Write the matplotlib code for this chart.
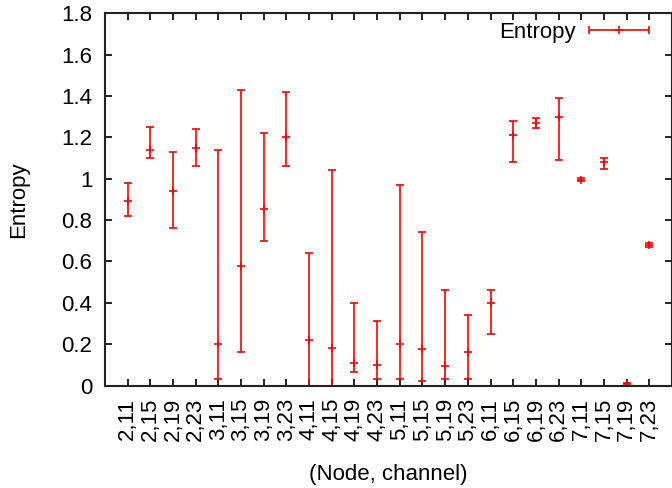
import numpy as np
import matplotlib
matplotlib.use("Agg")
import matplotlib.pyplot as plt
from matplotlib.container import ErrorbarContainer
from matplotlib.legend_handler import HandlerErrorbar

# data
labels = ["2,11", "2,15", "2,19", "2,23", "3,11", "3,15", "3,19", "3,23",
          "4,11", "4,15", "4,19", "4,23", "5,11", "5,15", "5,19", "5,23",
          "6,11", "6,15", "6,19", "6,23", "7,11", "7,15", "7,19", "7,23"]
entropy = [0.89, 1.14, 0.94, 1.15, 0.20, 0.58, 0.855, 1.20,
           0.22, 0.18, 0.11, 0.10, 0.20, 0.175, 0.095, 0.16,
           0.40, 1.21, 1.27, 1.30, 0.995, 1.08, 0.005, 0.68]
low = [0.82, 1.10, 0.76, 1.06, 0.03, 0.16, 0.70, 1.06,
       0.00, 0.00, 0.065, 0.03, 0.03, 0.02, 0.03, 0.03,
       0.25, 1.08, 1.245, 1.09, 0.988, 1.045, 0.0, 0.672]
high = [0.98, 1.25, 1.13, 1.24, 1.14, 1.43, 1.22, 1.42,
        0.64, 1.04, 0.40, 0.31, 0.97, 0.74, 0.46, 0.34,
        0.46, 1.28, 1.295, 1.39, 1.005, 1.10, 0.01, 0.69]

plt.rcParams['font.family'] = ['Liberation Sans', 'DejaVu Sans']
plt.rcParams['font.size'] = 16

x = np.arange(1, len(labels) + 1)
yerr = [np.array(entropy) - np.array(low), np.array(high) - np.array(entropy)]

fig = plt.figure(figsize=(6.72, 4.88), dpi=100)
ax = fig.add_axes([0.156, 0.21, 0.844, 0.763])

ax.errorbar(x, entropy, yerr=yerr, fmt='+', color='red', ecolor='red',
            elinewidth=1.2, capsize=2.7, capthick=1.2, markersize=5.5, mew=1.2)

# dummy handle for the gnuplot-style horizontal legend sample
h = ax.errorbar([np.nan], [np.nan], xerr=[0.1], fmt='+', color='red',
                elinewidth=1.2, capsize=2.7, capthick=1.2, markersize=5.5, mew=1.2,
                label="Entropy")
ax.legend(handles=[h], loc='upper right', frameon=False, markerfirst=False,
          handlelength=2.7, handletextpad=0.6, borderaxespad=0.0,
          bbox_to_anchor=(0.976, 1.0),
          handler_map={ErrorbarContainer: HandlerErrorbar(xerr_size=1.35)})

ax.set_xlim(0, 25)
ax.set_ylim(0, 1.8)
ax.set_xticks(x)
ax.set_xticklabels(labels, rotation=90, ha='center', va='top')
ax.set_yticks(np.arange(0, 1.81, 0.2))
ax.set_yticklabels(["0", "0.2", "0.4", "0.6", "0.8", "1", "1.2", "1.4", "1.6", "1.8"])
ax.tick_params(direction='in', length=5, width=1.2, top=True, right=True)
ax.tick_params(axis='x', pad=9)
ax.tick_params(axis='y', pad=9)
for s in ax.spines.values():
    s.set_linewidth(1.5)
    s.set_color('#222222')

ax.set_xlabel("(Node, channel)", labelpad=16)
ax.set_ylabel("Entropy", labelpad=23)

fig.savefig("out.png", dpi=100)
